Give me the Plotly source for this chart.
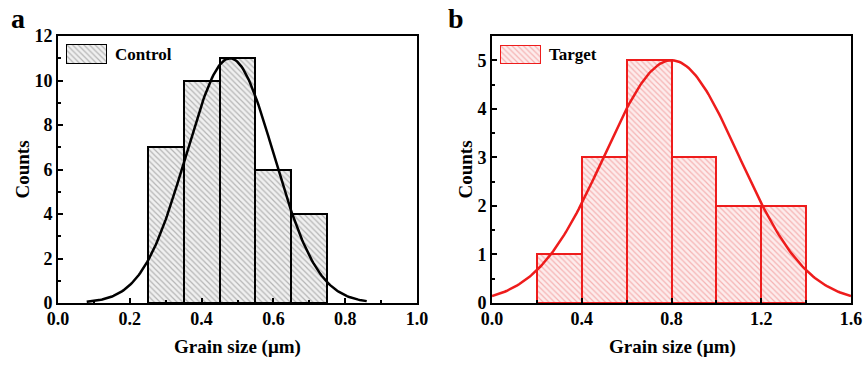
import numpy as np
import plotly.graph_objects as go

# Histogram bins (bin centres) and counts
control_bins = [0.3, 0.4, 0.5, 0.6, 0.7]
control_counts = [7, 10, 11, 6, 4]
control_width = 0.1

target_bins = [0.3, 0.5, 0.7, 0.9, 1.1, 1.3]
target_counts = [1, 3, 5, 3, 2, 2]
target_width = 0.2

# Gaussian fit parameters: height, centre, sigma, x-span
control_fit = dict(amp=11.0, mu=0.479, sigma=0.122, x0=0.08, x1=0.86)
target_fit = dict(amp=5.0, mu=0.80, sigma=0.30, x0=0.0, x1=1.6)

# Tick positions / labels
a_xticks = [0.0, 0.2, 0.4, 0.6, 0.8, 1.0]
a_yticks = [0, 2, 4, 6, 8, 10, 12]
b_xticks = [0.0, 0.4, 0.8, 1.2, 1.6]
b_yticks = [0, 1, 2, 3, 4, 5]

FONT = "Liberation Serif"
BLACK = "#000000"
RED = "#ee1c1c"
GREY_BG, GREY_FG = "#f0f0f0", "#7a7a7a"
PINK_BG, PINK_FG = "#fdecec", "#ee7a7a"


def fit_curve(p, n=200):
    x = np.linspace(p["x0"], p["x1"], n)
    y = p["amp"] * np.exp(-((x - p["mu"]) ** 2) / (2 * p["sigma"] ** 2))
    return x, y


def bold(vals, fmt):
    return [f"<b>{v:{fmt}}</b>" for v in vals]


fig = go.Figure()

# ---- panel a ----
fig.add_trace(go.Bar(
    x=control_bins, y=control_counts, width=control_width,
    marker=dict(color=GREY_BG, line=dict(color=BLACK, width=2),
                pattern=dict(shape="\\", fgcolor=GREY_FG, bgcolor=GREY_BG,
                             size=4, solidity=0.3)),
    xaxis="x", yaxis="y", showlegend=False))
cx, cy = fit_curve(control_fit)
fig.add_trace(go.Scatter(x=cx, y=cy, mode="lines",
                         line=dict(color=BLACK, width=2.5),
                         xaxis="x", yaxis="y", showlegend=False, cliponaxis=False))

# ---- panel b ----
fig.add_trace(go.Bar(
    x=target_bins, y=target_counts, width=target_width,
    marker=dict(color=PINK_BG, line=dict(color=RED, width=2),
                pattern=dict(shape="\\", fgcolor=PINK_FG, bgcolor=PINK_BG,
                             size=4, solidity=0.3)),
    xaxis="x2", yaxis="y2", showlegend=False))
tx, ty = fit_curve(target_fit)
fig.add_trace(go.Scatter(x=tx, y=ty, mode="lines",
                         line=dict(color=RED, width=2.5),
                         xaxis="x2", yaxis="y2", showlegend=False, cliponaxis=False))

# ---- legend swatches (hatched boxes on their own small axes) ----
box_x = [0, 1, 1, 0, 0]
box_y = [0, 0, 1, 1, 0]
fig.add_trace(go.Scatter(
    x=box_x, y=box_y, mode="lines", fill="toself", fillcolor=GREY_BG,
    fillpattern=dict(shape="\\", fgcolor=GREY_FG, bgcolor=GREY_BG, size=4, solidity=0.3),
    line=dict(color=BLACK, width=2), xaxis="x3", yaxis="y3",
    showlegend=False, cliponaxis=False, hoverinfo="skip"))
fig.add_trace(go.Scatter(
    x=box_x, y=box_y, mode="lines", fill="toself", fillcolor=PINK_BG,
    fillpattern=dict(shape="\\", fgcolor=PINK_FG, bgcolor=PINK_BG, size=4, solidity=0.3),
    line=dict(color=RED, width=2), xaxis="x4", yaxis="y4",
    showlegend=False, cliponaxis=False, hoverinfo="skip"))

tickfont = dict(family=FONT, size=18, color=BLACK, weight=700)
common = dict(showgrid=False, zeroline=False, showline=True, linecolor=BLACK,
              linewidth=2, mirror=True, ticks="inside", ticklen=5, tickwidth=1.5,
              tickcolor=BLACK, tickfont=tickfont, automargin=False)
xcommon = dict(common, ticklabelstandoff=-2)
ycommon = dict(common, ticklabelstandoff=0)

W_A = 359 / 793
X_B = 434 / 793

fig.update_layout(
    width=866, height=367,
    margin=dict(l=58, r=15, t=36, b=64, autoexpand=False),
    paper_bgcolor="white", plot_bgcolor="white",
    bargap=0, showlegend=False,
    xaxis=dict(domain=[0, W_A], range=[0, 1],
               tickvals=a_xticks, ticktext=bold(a_xticks, ".1f"),
               minor=dict(ticks="inside", dtick=0.1, ticklen=3, tickcolor=BLACK),
               anchor="y", **xcommon),
    yaxis=dict(domain=[0, 1], range=[0, 12],
               tickvals=a_yticks, ticktext=bold(a_yticks, "d"),
               minor=dict(ticks="inside", dtick=1, ticklen=3, tickcolor=BLACK),
               anchor="x", **ycommon),
    xaxis2=dict(domain=[X_B, 1], range=[0, 1.6],
                tickvals=b_xticks, ticktext=bold(b_xticks, ".1f"),
                minor=dict(ticks="inside", dtick=0.2, ticklen=3, tickcolor=BLACK),
                anchor="y2", **xcommon),
    yaxis2=dict(domain=[0, 1], range=[0, 5.5],
                tickvals=b_yticks, ticktext=bold(b_yticks, "d"),
                minor=dict(ticks="inside", dtick=0.5, ticklen=3, tickcolor=BLACK),
                anchor="x2", **ycommon),
    xaxis3=dict(domain=[(66 - 58) / 793, (107 - 58) / 793], range=[0, 1], visible=False,
                anchor="y3", automargin=False),
    yaxis3=dict(domain=[(303 - 64) / 267, (303 - 44) / 267], range=[0, 1], visible=False,
                anchor="x3", automargin=False),
    xaxis4=dict(domain=[(500 - 58) / 793, (541 - 58) / 793], range=[0, 1], visible=False,
                anchor="y4", automargin=False),
    yaxis4=dict(domain=[(303 - 64) / 267, (303 - 45) / 267], range=[0, 1], visible=False,
                anchor="x4", automargin=False),
)

label_font = dict(family=FONT, size=19, color=BLACK)
ann = [
    dict(text="<b>a</b>", x=(18 - 58) / 793, y=(303 - 18) / 267,
         font=dict(family=FONT, size=28, color=BLACK)),
    dict(text="<b>b</b>", x=(456 - 58) / 793, y=(303 - 18) / 267,
         font=dict(family=FONT, size=28, color=BLACK)),
    dict(text="<b>Counts</b>", x=(22 - 58) / 793, y=0.5, textangle=-90, font=label_font),
    dict(text="<b>Counts</b>", x=(465 - 58) / 793, y=0.5, textangle=-90, font=label_font),
    dict(text="<b>Grain size (μm)</b>", x=(237 - 58) / 793, y=(303 - 347) / 267, font=label_font),
    dict(text="<b>Grain size (μm)</b>", x=(672 - 58) / 793, y=(303 - 347) / 267, font=label_font),
    dict(text="<b>Control</b>", x=(113 - 58) / 793, y=(303 - 54) / 267, xanchor="left",
         font=dict(family=FONT, size=17, color=BLACK)),
    dict(text="<b>Target</b>", x=(547 - 58) / 793, y=(303 - 55) / 267, xanchor="left",
         font=dict(family=FONT, size=17, color=BLACK)),
]
for a in ann:
    a.setdefault("xanchor", "center")
    a.update(xref="paper", yref="paper", yanchor="middle", showarrow=False)
fig.update_layout(annotations=ann)

fig.write_html("out.html")
